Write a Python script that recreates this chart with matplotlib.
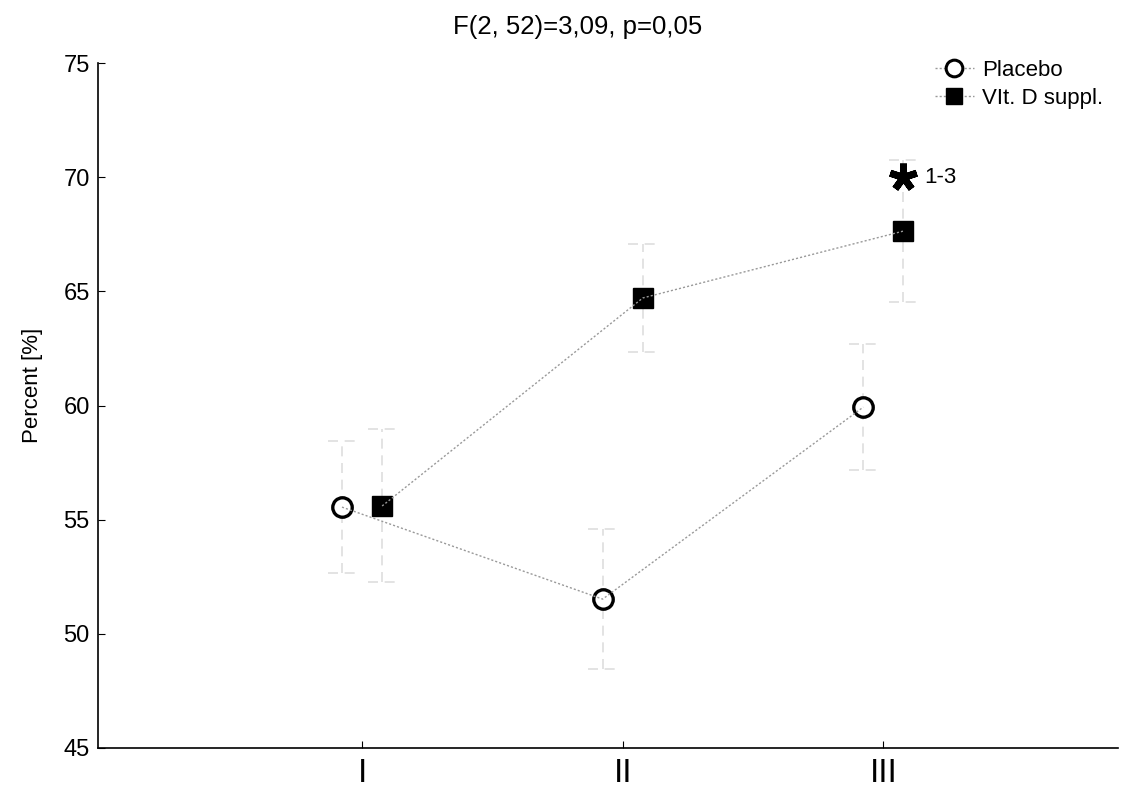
import matplotlib
matplotlib.use("Agg")
import matplotlib.pyplot as plt
from matplotlib.lines import Line2D
import numpy as np

plt.rcParams['font.family'] = ['Liberation Sans', 'DejaVu Sans']

categories = ["I", "II", "III"]
placebo_mean = [55.55, 51.52, 59.93]
placebo_err = [2.9, 3.05, 2.76]
vitd_mean = [55.6, 64.71, 67.64]
vitd_err = [3.35, 2.35, 3.1]
title = "F(2, 52)=3,09, p=0,05"
series_names = ["Placebo", "VIt. D suppl."]
star_y = 70.0
star_label = "1-3"

fig = plt.figure(figsize=(11.35, 7.87), dpi=100)
ax = fig.add_axes([98/1135, 1-748/787, 1020/1135, 685/787])

x = np.arange(1, len(categories) + 1)
off = 0.077
xp = x - off
xv = x + off

errc = '#dedede'
cap = 0.055
for xs, m, e in [(xp, placebo_mean, placebo_err), (xv, vitd_mean, vitd_err)]:
    m = np.array(m); e = np.array(e)
    ax.vlines(xs, m - e, m + e, colors=errc, linestyles=(0, (6, 4)), lw=1.2, zorder=1)
    ax.hlines(m + e, xs - cap, xs + cap, colors=errc, linestyles=(0, (6, 4)), lw=1.2, zorder=1)
    ax.hlines(m - e, xs - cap, xs + cap, colors=errc, linestyles=(0, (6, 4)), lw=1.2, zorder=1)

ax.plot(xp, placebo_mean, ls='none', marker='o', ms=14, mfc='white', mec='black', mew=2.4, zorder=3)
ax.plot(xv, vitd_mean, ls='none', marker='s', ms=14, mfc='black', mec='black', zorder=3)
ax.plot(xp, placebo_mean, ls=(0, (1.5, 1.5)), color='#999999', lw=1.0, zorder=4)
ax.plot(xv, vitd_mean, ls=(0, (1.5, 1.5)), color='#999999', lw=1.0, zorder=4)

ax.plot([xv[2]], [star_y], marker=(5, 2, 0), ms=20, mew=5, color='black', ls='none', zorder=5)
ax.text(xv[2] + 0.08, star_y, star_label, fontsize=16, va='center', ha='left')

ax.set_xlim(-0.013, 3.9)
ax.set_ylim(45, 75)
ax.set_yticks([45, 50, 55, 60, 65, 70, 75])
ax.set_xticks(x)
ax.set_xticklabels(categories, fontsize=24)
ax.tick_params(axis='y', direction='in', length=5, labelsize=17, pad=6)
ax.tick_params(axis='x', direction='in', length=5, pad=7)
for s in ['top', 'right']:
    ax.spines[s].set_visible(False)
ax.spines['left'].set_linewidth(1.2)
ax.spines['bottom'].set_linewidth(1.2)

ax.set_ylabel("Percent [%]", fontsize=16, family=['Liberation Sans Narrow', 'Liberation Sans', 'DejaVu Sans'])
ax.yaxis.set_label_coords(-0.054, 0.53)

fig.text(578/1135, 1-27/787, title, fontsize=18.5, ha='center', va='center')

handles = [
    Line2D([], [], ls=(0, (1.5, 1.5)), color='#999999', lw=1.0, marker='o', ms=12, mfc='white', mec='black', mew=2.2),
    Line2D([], [], ls=(0, (1.5, 1.5)), color='#999999', lw=1.0, marker='s', ms=12, mfc='black', mec='black'),
]
leg = ax.legend(handles, series_names, loc='upper left', bbox_to_anchor=(0.8206, 1.004),
                frameon=False, fontsize=16, handlelength=1.75, handletextpad=0.35,
                labelspacing=0.3, borderpad=0, borderaxespad=0)

fig.savefig("out.png", dpi=100)
